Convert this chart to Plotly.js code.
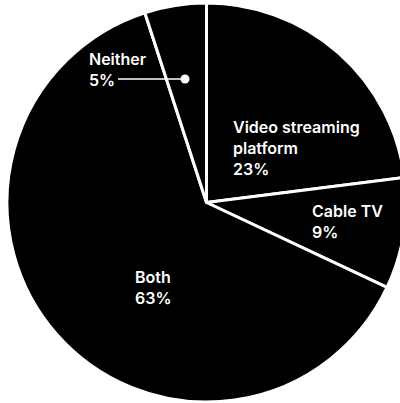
<!DOCTYPE html>
<html>
<head>
<meta charset="utf-8">
<script src="https://cdn.plot.ly/plotly-3.0.1.min.js"></script>
<style>
html,body{margin:0;padding:0;overflow:hidden;background:#fff;}
#chart{width:406px;height:403px;}
</style>
</head>
<body>
<div id="chart"></div>
<script>
// Data
const categories = ["Video streaming platform", "Cable TV", "Both", "Neither"];
const labelLines = ["Video streaming<br>platform", "Cable TV", "Both", "Neither"];
const shares = [23, 9, 63, 5];

// Layout geometry (pixels)
const W = 406, H = 403, L = 7, T = 3, S = 399;
const px = x => (x - L) / S;
const py = y => 1 - (y - T) / S;

// label anchor points in pixels (top-left of text block)
const labelPos = [
  {x: 231, y: 115},
  {x: 310, y: 199},
  {x: 133, y: 265},
  {x: 87, y: 47}
];

const font = {family: "Inter, 'Noto Sans', sans-serif", size: 16, color: "#ffffff", weight: 600};

const annotations = categories.map((c, i) => ({
  xref: "paper", yref: "paper",
  x: px(labelPos[i].x), y: py(labelPos[i].y),
  xanchor: "left", yanchor: "top", align: "left",
  showarrow: false,
  text: labelLines[i] + "<br>" + shares[i] + "%",
  font: font
}));

const trace = {
  type: "pie",
  labels: categories,
  values: shares,
  sort: false,
  direction: "clockwise",
  rotation: 0,
  textinfo: "none",
  hoverinfo: "none",
  marker: {colors: categories.map(() => "#000000"), line: {color: "#ffffff", width: 3}},
  domain: {x: [0, 1], y: [0, 1]},
  showlegend: false
};

const layout = {
  width: W, height: H,
  margin: {l: L, r: W - L - S, t: T, b: H - T - S, pad: 0},
  paper_bgcolor: "#ffffff",
  showlegend: false,
  annotations: annotations,
  shapes: [
    {type: "line", xref: "paper", yref: "paper", x0: px(118), x1: px(184), y0: py(79), y1: py(79),
     line: {color: "#ffffff", width: 1.5}},
    {type: "circle", xref: "paper", yref: "paper", xsizemode: "pixel", ysizemode: "pixel",
     xanchor: px(185), yanchor: py(79), x0: -4.5, x1: 4.5, y0: -4.5, y1: 4.5,
     fillcolor: "#ffffff", line: {color: "#ffffff", width: 0}}
  ]
};

Plotly.newPlot("chart", [trace], layout, {displayModeBar: false, staticPlot: true});
</script>
</body>
</html>
